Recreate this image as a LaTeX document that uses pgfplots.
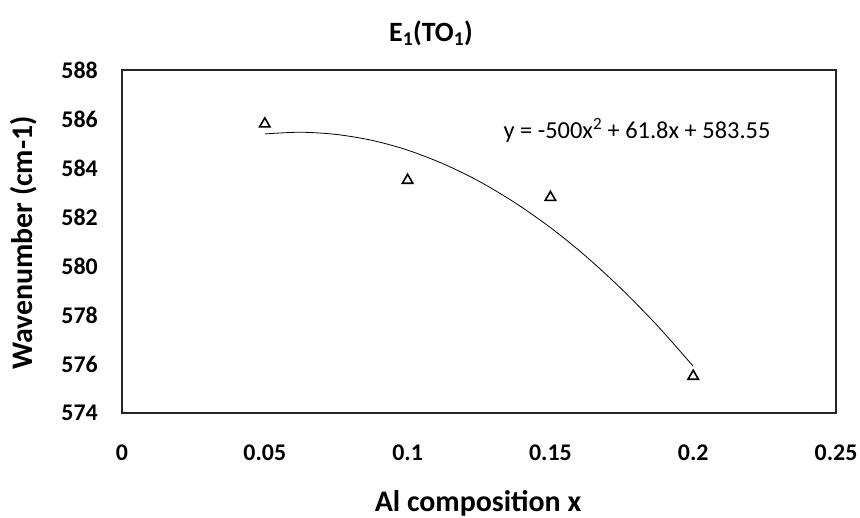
\documentclass[border=0pt]{standalone}
\usepackage{fontspec}
\setmainfont{Carlito}
\usepackage{pgfplots}
\pgfplotsset{compat=1.18}
\begin{document}
\begin{tikzpicture}
\useasboundingbox (-122bp,-105bp) rectangle (738bp,413bp);
\begin{axis}[
  at={(0,0)}, anchor=south west,
  scale only axis,
  width=714bp, height=343bp,
  xmin=0, xmax=0.25, ymin=574, ymax=588,
  xtick={0,0.05,0.1,0.15,0.2,0.25},
  xticklabels={0,0.05,0.1,0.15,0.2,0.25},
  ytick={574,576,578,580,582,584,586,588},
  yticklabels={574,576,578,580,582,584,586,588},
  major tick length=0pt,
  axis line style={line width=1.6bp, black!85},
  /pgf/number format/assume math mode=true,
  ticklabel style={font=\fontsize{24}{28}\selectfont\bfseries, inner sep=0pt},
  xticklabel style={anchor=center, yshift=-40bp},
  yticklabel style={anchor=east},
  yticklabel shift=24bp,
  clip=false,
]
\addplot[only marks, mark=triangle, mark size=6bp, mark options={line width=1.6bp, fill=white, draw=black}] coordinates {
  (0.05,585.8) (0.1,583.5) (0.15,582.8) (0.2,575.5)
};
\addplot[smooth, line width=0.8bp, black] coordinates {
  (0.05,585.39) (0.0625,585.46) (0.075,585.37) (0.0875,585.13) (0.1,584.73)
  (0.1125,584.17) (0.125,583.46) (0.1375,582.59) (0.15,581.57) (0.1625,580.39)
  (0.175,579.05) (0.1875,577.56) (0.2,575.91)
};
\end{axis}
\node[font=\fontsize{28}{32}\selectfont\bfseries] at (309bp,380bp) {E\textsubscript{1}(TO\textsubscript{1})};
\node[font=\fontsize{30}{34}\selectfont\bfseries] at (356bp,-90bp) {Al composition x};
\node[font=\fontsize{30}{34}\selectfont\bfseries, rotate=90] at (-98bp,170bp) {Wavenumber (cm-1)};
\node[font=\fontsize{24.5}{28}\selectfont] at (515bp,283bp) {y = -500x\textsuperscript{2} + 61.8x + 583.55};
\end{tikzpicture}
\end{document}
